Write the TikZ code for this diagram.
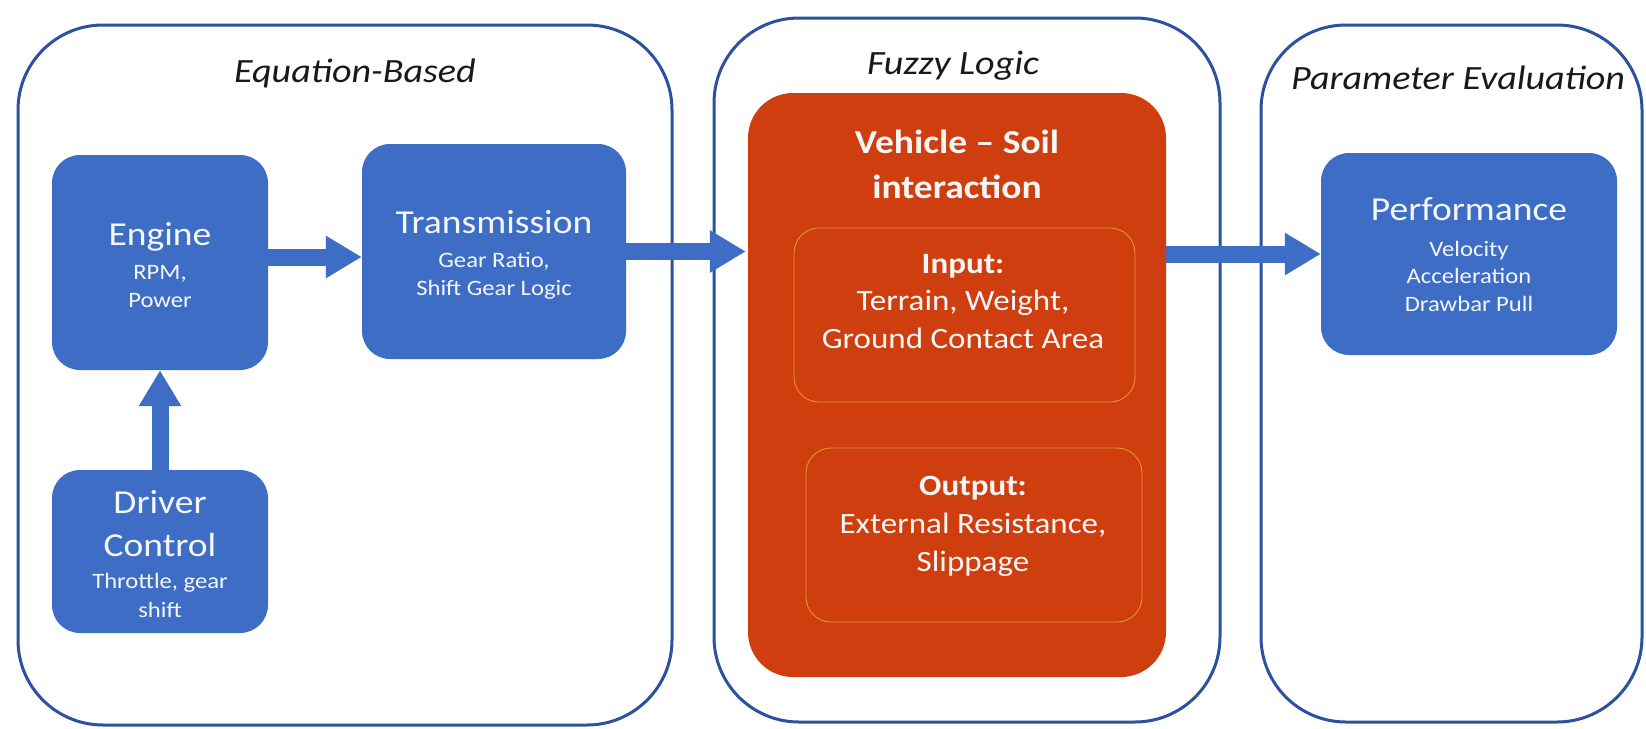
\documentclass[tikz,border=0pt]{standalone}
\usepackage{fontspec}
\setmainfont{Carlito}[FakeStretch=1.12]
\usetikzlibrary{arrows.meta}
\definecolor{boxblue}{RGB}{61,109,197}
\definecolor{panelblue}{RGB}{45,80,160}
\definecolor{soilred}{RGB}{206,62,14}
\definecolor{innerline}{RGB}{228,150,45}
\definecolor{txtwhite}{RGB}{246,246,246}
\definecolor{titlecol}{RGB}{25,25,25}
\tikzset{
  panel/.style={draw=panelblue, line width=3pt, rounded corners=85pt},
  bluebox/.style={fill=boxblue, rounded corners=28pt, inner sep=0pt},
  redbox/.style={fill=soilred, rounded corners=45pt, inner sep=0pt},
  innerbox/.style={draw=innerline, line width=0.9pt, rounded corners=25pt, inner sep=0pt},
  flow/.style={draw=boxblue, line width=17pt, -{Triangle[length=36pt,width=40pt]}},
  headtxt/.style={anchor=base, text=txtwhite, inner sep=0pt, font=\fontsize{33.5}{40}\selectfont},
  subtxt/.style={anchor=base, text=txtwhite, inner sep=0pt, font=\fontsize{22}{26}\selectfont},
  boldtxt/.style={anchor=base, text=txtwhite, inner sep=0pt, font=\fontsize{33.5}{40}\selectfont\bfseries},
  innerbold/.style={anchor=base, text=txtwhite, inner sep=0pt, font=\fontsize{29.5}{35}\selectfont\bfseries},
  innertxt/.style={anchor=base, text=txtwhite, inner sep=0pt, font=\fontsize{29.5}{35}\selectfont},
  titletxt/.style={anchor=base, text=titlecol, inner sep=0pt, font=\fontsize{34}{40}\selectfont\itshape},
}
\begin{document}
\begin{tikzpicture}[x=1pt,y=-1pt]
\useasboundingbox[fill=white] (0,0) rectangle (1646,728);

% panels
\node[panel, minimum width=654pt, minimum height=700pt] (pleft) at (345,375) {};
\node[panel, minimum width=506pt, minimum height=704pt] (pmid) at (967,370) {};
\node[panel, minimum width=381pt, minimum height=697pt] (pright) at (1451.5,373.5) {};

\node[titletxt] (tleft) at (355,82) {Equation-Based};
\node[titletxt] (tmid) at (953,74) {Fuzzy Logic};
\node[titletxt] (tright) at (1458,89) {Parameter Evaluation};

% blue boxes
\node[bluebox, minimum width=216pt, minimum height=215pt] (eng) at (160,262.5) {};
\node[bluebox, minimum width=264pt, minimum height=215pt] (trans) at (494,251.5) {};
\node[bluebox, minimum width=216pt, minimum height=163pt] (drv) at (160,551.5) {};
\node[bluebox, minimum width=296pt, minimum height=202pt] (perf) at (1469,254) {};

% red box and inner boxes
\node[redbox, minimum width=418pt, minimum height=584pt] (veh) at (957,385) {};
\node[innerbox, minimum width=341pt, minimum height=174pt] (inp) at (964.5,315) {};
\node[innerbox, minimum width=336pt, minimum height=174pt] (outp) at (974,535) {};

% connectors
\draw[flow] ([yshift=5.5pt]eng.east) coordinate (e1) -- (trans.west |- e1);
\draw[flow, shorten >=2pt] (trans.east) -- (veh.west |- trans.east);
\draw[flow] (veh.east |- perf.west) -- (perf.west);
\draw[flow] (drv.north) -- (eng.south);

% texts
\node[headtxt] (eng-h) at (160,245) {Engine};
\node[subtxt] (eng-a) at (160,279) {RPM,};
\node[subtxt] (eng-b) at (160,307) {Power};

\node[headtxt] (trans-h) at (494,233) {Transmission};
\node[subtxt] (trans-a) at (494,267) {Gear Ratio,};
\node[subtxt] (trans-b) at (494,295) {Shift Gear Logic};

\node[headtxt] (drv-h) at (160,513) {Driver};
\node[headtxt] (drv-h2) at (160,556) {Control};
\node[subtxt] (drv-a) at (160,588) {Throttle, gear};
\node[subtxt] (drv-b) at (160,617) {shift};

\node[headtxt] (perf-h) at (1469,220) {Performance};
\node[subtxt] (perf-a) at (1469,256) {Velocity};
\node[subtxt] (perf-b) at (1469,283) {Acceleration};
\node[subtxt] (perf-c) at (1469,311) {Drawbar Pull};

\node[boldtxt] (veh-h) at (957,153) {Vehicle – Soil};
\node[boldtxt] (veh-h2) at (957,198) {interaction};

\node[innerbold] (inp-h) at (963,273) {Input:};
\node[innertxt] (inp-a) at (963,310) {Terrain, Weight,};
\node[innertxt] (inp-b) at (963,348) {Ground Contact Area};

\node[innerbold] (outp-h) at (973,495) {Output:};
\node[innertxt] (outp-a) at (973,533) {External Resistance,};
\node[innertxt] (outp-b) at (973,571) {Slippage};
\end{tikzpicture}
\end{document}
